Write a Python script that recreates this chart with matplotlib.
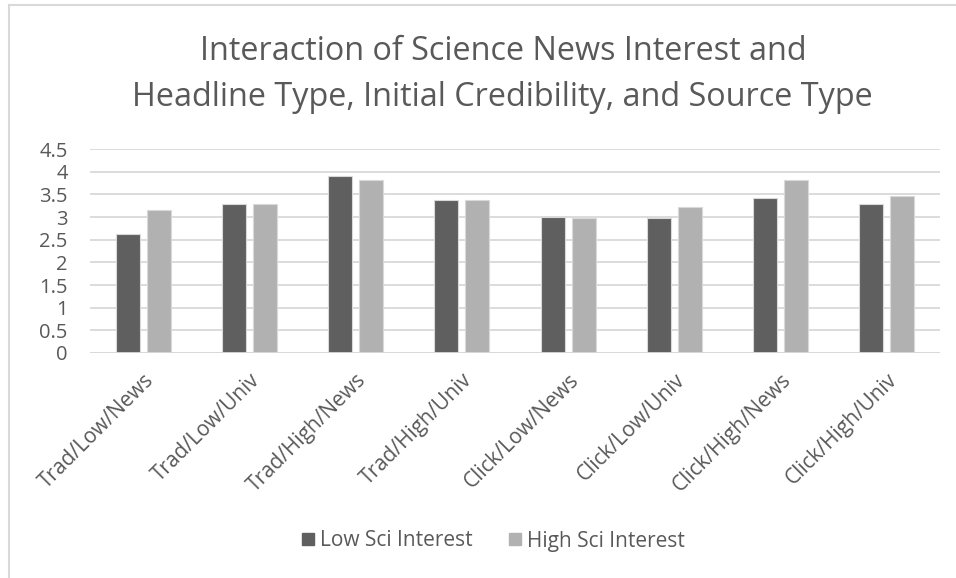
import numpy as np
import matplotlib.pyplot as plt
from matplotlib.lines import Line2D

# Mean credibility by condition (headline / initial credibility / source)
conditions = ['Trad/Low/News', 'Trad/Low/Univ', 'Trad/High/News', 'Trad/High/Univ',
              'Click/Low/News', 'Click/Low/Univ', 'Click/High/News', 'Click/High/Univ']
low_interest = [2.62, 3.28, 3.90, 3.37, 3.01, 2.98, 3.41, 3.28]
high_interest = [3.15, 3.28, 3.81, 3.37, 2.98, 3.23, 3.81, 3.46]
yticks = [0, 0.5, 1, 1.5, 2, 2.5, 3, 3.5, 4, 4.5]

plt.rcParams['font.family'] = ['Open Sans', 'DejaVu Sans']
txt = '#595959'
dark = '#5f5f5f'
light = '#b1b1b1'

fig = plt.figure(figsize=(9.56, 5.78), dpi=100)
ax = fig.add_axes([90 / 956, 1 - 353 / 578, 850 / 956, 204 / 578])

x = np.arange(len(conditions))
w = 0.226
off = 0.146
ax.bar(x - off, low_interest, w, color=dark, edgecolor='#d9d9d9', linewidth=0.8,
       label='Low Sci Interest', zorder=3)
ax.bar(x + off, high_interest, w, color=light, edgecolor='#d9d9d9', linewidth=0.8,
       label='High Sci Interest', zorder=3)

ax.set_xlim(-0.5, len(conditions) - 0.5)
ax.set_ylim(0, 4.5)
ax.set_yticks(yticks)
ax.set_yticklabels([f'{v:g}' for v in yticks])
ax.yaxis.grid(True, color='#d9d9d9', linewidth=1.3, zorder=0)
for s in ax.spines.values():
    s.set_visible(False)
ax.axhline(0, color='#d9d9d9', linewidth=1.3, zorder=4)
ax.tick_params(axis='both', length=0, colors=txt)
ax.tick_params(axis='y', pad=16, labelsize=14.5)
ax.set_xticks(x)
ax.set_xticklabels(conditions, rotation=45, ha='right', rotation_mode='anchor')
ax.tick_params(axis='x', pad=12, labelsize=15)

fig.text(0.526, 1 - 51 / 578, 'Interaction of Science News Interest and', ha='center',
         va='center', fontsize=23.3, color=txt)
fig.text(0.526, 1 - 98 / 578, 'Headline Type, Initial Credibility, and Source Type', ha='center',
         va='center', fontsize=23.3, color=txt)

handles = [Line2D([], [], marker='s', linestyle='none', markersize=8, color=dark),
           Line2D([], [], marker='s', linestyle='none', markersize=8, color=light)]
fig.legend(handles, ['Low Sci Interest', 'High Sci Interest'], loc='center',
           bbox_to_anchor=(0.515, 1 - 541 / 578), ncol=2, frameon=False, fontsize=15,
           labelcolor=txt, handletextpad=0.2, columnspacing=1.6, handlelength=0.8)

# chart frame (left and top edges)
fig.add_artist(Line2D([8.5 / 956, 8.5 / 956], [0, 1 - 5 / 578], color='#d9d9d9', linewidth=1.5))
fig.add_artist(Line2D([8.5 / 956, 1], [1 - 5 / 578, 1 - 5 / 578], color='#d9d9d9', linewidth=1.5))

plt.savefig('out.png', dpi=100)
